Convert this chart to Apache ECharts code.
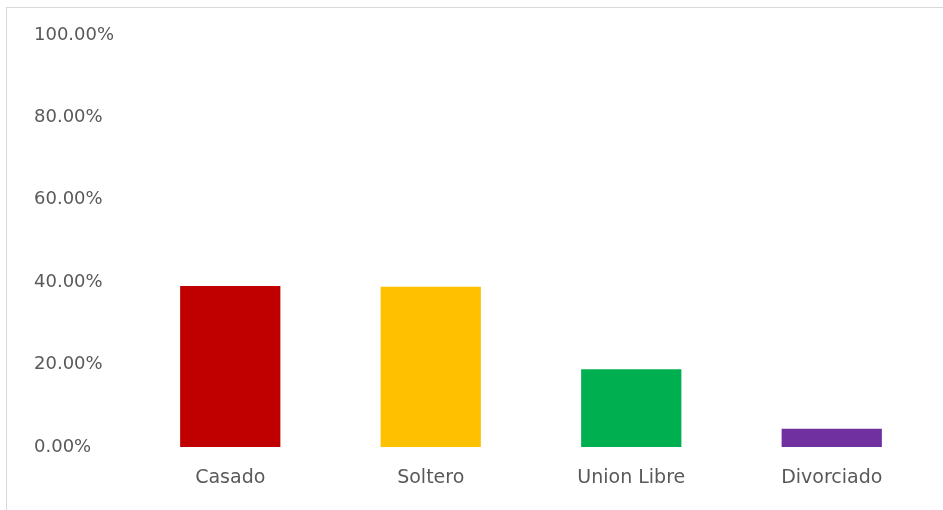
<!DOCTYPE html>
<html>
<head>
<meta charset="utf-8">
<script src="https://cdn.jsdelivr.net/npm/echarts@6/dist/echarts.min.js"></script>
<style>
  html, body { margin: 0; padding: 0; background: #fff; }
  #wrap { position: absolute; left: 6px; top: 7px; width: 937px; height: 503px;
          border-left: 1px solid #d9d9d9; border-top: 1px solid #d9d9d9; box-sizing: border-box; }
  #chart { position: absolute; left: 0; top: 0; width: 943px; height: 510px; }
</style>
</head>
<body>
<div id="wrap"></div>
<div id="chart"></div>
<script>
// estado civil
var categories = ['Casado', 'Soltero', 'Union Libre', 'Divorciado'];
var values = [39.1, 38.9, 18.9, 4.4];
var colors = ['#c00000', '#ffc000', '#00b050', '#7030a0'];
var yTicks = [0, 20, 40, 60, 80, 100];

var myChart = echarts.init(document.getElementById('chart'));

var data = [];
for (var i = 0; i < values.length; i++) {
    data.push({ value: values[i], itemStyle: { color: colors[i] } });
}

var option = {
    animation: false,
    grid: { left: 130, right: 11, top: 35, bottom: 63 },
    xAxis: {
        type: 'category',
        data: categories,
        axisLine: { show: false },
        axisTick: { show: false },
        axisLabel: { color: '#595959', fontSize: 19, fontFamily: 'DejaVu Sans', margin: 22 }
    },
    yAxis: {
        type: 'value',
        min: yTicks[0],
        max: yTicks[yTicks.length - 1],
        interval: 20,
        splitLine: { show: false },
        axisLine: { show: false },
        axisTick: { show: false },
        axisLabel: {
            color: '#595959', fontSize: 18, fontFamily: 'DejaVu Sans',
            align: 'left', margin: 96,
            formatter: function (v) { return v.toFixed(2) + '%'; }
        }
    },
    series: [{
        type: 'bar',
        data: data,
        barWidth: '50%'
    }]
};
myChart.setOption(option);
</script>
</body>
</html>
